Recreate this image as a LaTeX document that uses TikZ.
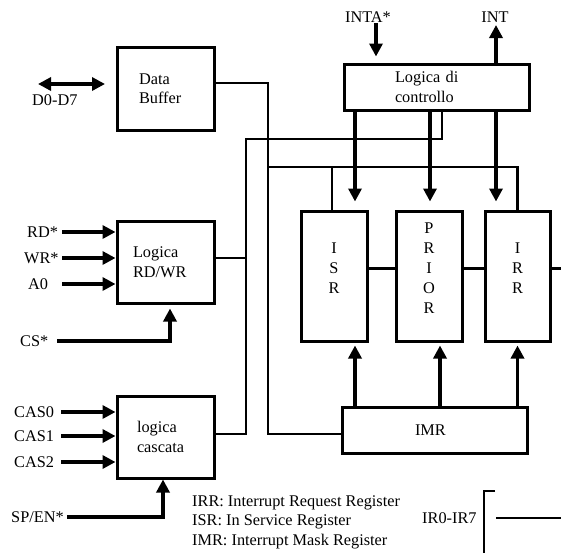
\documentclass[tikz,border=0pt]{standalone}
\usepackage{fontspec}
\setmainfont{Liberation Serif}
\usetikzlibrary{arrows.meta}
\begin{document}
\begin{tikzpicture}[x=1pt,y=-1pt,
  every node/.style={font=\fontsize{16.3}{19.5}\selectfont},
  blk/.style={draw, line width=3pt, inner ysep=0pt, align=left},
  reg/.style={draw, line width=3pt, minimum height=130pt, inner sep=0pt},
  regtxt/.style={yshift=8pt, align=center, inner sep=0pt, font=\fontsize{16.3}{20}\selectfont},
  wire/.style={line width=2.4pt},
  arr/.style={line width=3.4pt, -{Triangle[length=13pt,width=13pt]}},
  lbl/.style={inner sep=0pt, anchor=west},
]
\useasboundingbox (0,0) rectangle (561,552);

% functional blocks
\node[blk, inner xsep=22pt, text width=53pt, minimum height=83pt] (db) at (165.5,88.5) {Data\\Buffer};
\node[blk, inner xsep=16pt, text width=65pt, minimum height=82pt] (rdwr) at (165.5,262) {Logica\\RD/WR};
\node[blk, inner xsep=20pt, text width=57pt, minimum height=82pt] (casc) at (165.5,437) {logica\\cascata};
\node[blk, inner xsep=51pt, text width=83pt, minimum height=46pt] (ctrl) at (436.5,87) {Logica di\\controllo};
\node[blk, inner xsep=73pt, text width=39pt, minimum height=46pt] (imr) at (434.5,430) {IMR};

% registers
\node[reg, minimum width=66pt, label={[regtxt]center:{I\\S\\R}}] (isr) at (334,276) {};
\node[reg, minimum width=66pt, label={[regtxt]center:{P\\R\\I\\O\\R}}] (prior) at (429,276) {};
\node[reg, minimum width=65pt, label={[regtxt]center:{I\\R\\R}}] (irr) at (517.5,276) {};

% pin labels
\node[lbl] (ld) at (32,100) {D0-D7};
\node[lbl] (lrd) at (27,232) {RD*};
\node[lbl] (lwr) at (24,258) {WR*};
\node[lbl] (la0) at (28,284) {A0};
\node[lbl] (lcs) at (20,341) {CS*};
\node[lbl] (lc0) at (14,412) {CAS0};
\node[lbl] (lc1) at (14,436) {CAS1};
\node[lbl] (lc2) at (14,462) {CAS2};
\node[lbl] (lsp) at (11,517) {SP/EN*};
\node[inner sep=0pt] (linta) at (368,17) {INTA*};
\node[inner sep=0pt] (lint) at (495,17) {INT};
\node[lbl] (lir) at (422,518) {IR0-IR7};

% legend
\node[inner sep=0pt, anchor=base west] (k1) at (192,506) {IRR: Interrupt Request Register};
\node[inner sep=0pt, anchor=base west] (k2) at (192,525.5) {ISR: In Service Register};
\node[inner sep=0pt, anchor=base west] (k3) at (192,545) {IMR: Interrupt Mask Register};

% free ends and bends
\coordinate (dL) at (38,84);
\coordinate (dR) at (105,84);
\coordinate (rdS) at (62,232);
\coordinate (wrS) at (62,258);
\coordinate (a0S) at (62,284);
\coordinate (csS) at (57,341);
\coordinate (c0S) at (61,412);
\coordinate (c1S) at (61,436);
\coordinate (c2S) at (61,462);
\coordinate (spS) at (67,517);
\coordinate (intaS) at (376,23);
\coordinate (intE) at (496,25);
\coordinate (busA) at (268,434);
\coordinate (busB) at (268,167);
\coordinate (busC) at (246,139);
\coordinate (busD) at (246,434);
\coordinate (irOut) at (561,268.5);
\coordinate (brT) at (495,491);
\coordinate (brC) at (484,491);
\coordinate (brB) at (484,553);
\coordinate (irL) at (496,518);
\coordinate (irR) at (561,518);

% data bus
\draw[line width=3.4pt, {Triangle[length=13pt,width=13pt]}-{Triangle[length=13pt,width=13pt]}] (dL) -- (dR);

% inputs of the RD/WR logic
\draw[arr] (rdS) -- (rdS -| rdwr.west);
\draw[arr] (wrS) -- (wrS -| rdwr.west);
\draw[arr] (a0S) -- (a0S -| rdwr.west);
\draw[arr, shorten >=4pt] (csS) -| ([xshift=4.5pt]rdwr.south);

% inputs of the cascade logic
\draw[arr] (c0S) -- (c0S -| casc.west);
\draw[arr] (c1S) -- (c1S -| casc.west);
\draw[arr] (c2S) -- (c2S -| casc.west);
\draw[arr] (spS) -| ([xshift=-2.5pt]casc.south);

% internal bus from the data buffer
\draw[wire] ([yshift=5.5pt]db.east) -| (busA) -- ([yshift=-4pt]imr.west);
\draw[wire] (busB) -| (irr.north);
\draw[wire] ([xshift=-2pt]isr.north) -- ([xshift=-2pt]isr.north |- busB);

% control bus
\draw[wire] ([xshift=5.5pt]ctrl.south) |- (busC) -- (busD) -- ([yshift=3pt]casc.east);
\draw[wire] ([yshift=4pt]rdwr.east) -- ([yshift=4pt]rdwr.east -| busC);

% control logic to the registers
\draw[arr, shorten >=8pt] ([xshift=21pt]isr.north |- ctrl.south) -- ([xshift=21pt]isr.north);
\draw[arr, shorten >=8pt] ([xshift=1pt]prior.north |- ctrl.south) -- ([xshift=1pt]prior.north);
\draw[arr, shorten >=8pt] ([xshift=-21.5pt]irr.north |- ctrl.south) -- ([xshift=-21.5pt]irr.north);

% interrupt acknowledge and request
\draw[arr, shorten >=6pt] (intaS) -- (intaS |- ctrl.north);
\draw[arr] (intE |- ctrl.north) -- (intE);

% mask register to the registers
\draw[arr, shorten >=3pt] ([xshift=21pt]isr.south |- imr.north) -- ([xshift=21pt]isr.south);
\draw[arr, shorten >=3pt] ([xshift=11pt]prior.south |- imr.north) -- ([xshift=11pt]prior.south);
\draw[arr, shorten >=3pt] (irr.south |- imr.north) -- (irr.south);

% links between registers
\draw[wire] ([yshift=7.5pt]isr.east) -- ([yshift=7.5pt]prior.west);
\draw[wire] ([yshift=7.5pt]prior.east) -- ([yshift=7.5pt]irr.west);
\draw[wire] ([yshift=7.5pt]irr.east) -- (irOut);

% interrupt request lines
\draw[wire] (brT) -- (brC) -- (brB);
\draw[wire] (irL) -- (irR);
\end{tikzpicture}
\end{document}
